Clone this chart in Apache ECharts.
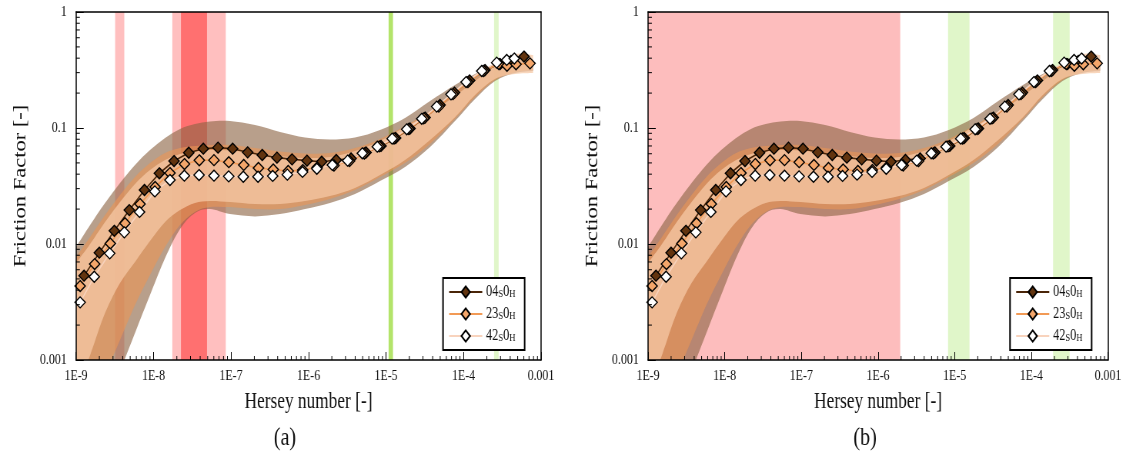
<!DOCTYPE html>
<html><head><meta charset="utf-8">
<script src="https://cdn.jsdelivr.net/npm/echarts@6/dist/echarts.min.js"></script>
<style>
html,body{margin:0;padding:0;background:#fff;overflow:hidden;width:1136px;height:455px;}
#chart{width:1476px;height:455px;transform:scaleX(0.76965);transform-origin:0 0;}
</style></head><body><div id="chart"></div>
<script>
// ---------- data ----------
const xTickLabels = ['1E-9','1E-8','1E-7','1E-6','1E-5','1E-4','0.001'];
const yTickLabels = ['0.001','0.01','0.1','1'];
const seriesNames = ['04S0H','23S0H','42S0H'];

const hersey04 = [1.27e-9,2.00e-9,3.12e-9,4.87e-9,7.65e-9,1.19e-8,1.84e-8,2.85e-8,4.39e-8,6.80e-8,1.05e-7,1.64e-7,2.53e-7,3.92e-7,6.13e-7,9.56e-7,1.48e-6,2.28e-6,3.54e-6,5.52e-6,8.62e-6,1.33e-5,2.04e-5,3.19e-5,4.98e-5,7.65e-5,1.20e-4,1.89e-4,2.96e-4,4.10e-4,6.03e-4];
const friction04 = [0.00533,0.00841,0.0130,0.0196,0.0292,0.0407,0.0519,0.0612,0.0663,0.0677,0.0663,0.0617,0.0585,0.0555,0.0537,0.0523,0.0512,0.0530,0.0546,0.0615,0.0700,0.0820,0.0990,0.123,0.158,0.202,0.257,0.316,0.356,0.378,0.413];

const hersey23 = [1.13e-9,1.74e-9,2.77e-9,4.29e-9,6.70e-9,1.05e-8,1.63e-8,2.51e-8,3.90e-8,6.03e-8,9.37e-8,1.46e-7,2.26e-7,3.51e-7,5.47e-7,8.42e-7,1.29e-6,2.13e-6,3.38e-6,5.25e-6,8.20e-6,1.27e-5,1.96e-5,3.07e-5,4.79e-5,7.32e-5,1.14e-4,1.82e-4,2.85e-4,3.64e-4,4.76e-4,7.21e-4];
const friction23 = [0.00434,0.00672,0.0101,0.0151,0.0221,0.0310,0.0409,0.0489,0.0527,0.0528,0.0507,0.0480,0.0452,0.0439,0.0426,0.0434,0.0456,0.0475,0.0519,0.0603,0.0693,0.0812,0.0980,0.121,0.153,0.196,0.249,0.310,0.356,0.344,0.354,0.361];

const hersey42 = [1.13e-9,1.72e-9,2.72e-9,4.20e-9,6.60e-9,1.04e-8,1.63e-8,2.50e-8,3.87e-8,6.03e-8,9.34e-8,1.44e-7,2.23e-7,3.45e-7,5.33e-7,8.37e-7,1.28e-6,2.03e-6,3.20e-6,4.95e-6,7.72e-6,1.20e-5,1.85e-5,2.89e-5,4.51e-5,6.90e-5,1.08e-4,1.72e-4,2.68e-4,3.61e-4,4.52e-4];
const friction42 = [0.00314,0.00522,0.00831,0.0126,0.0189,0.0284,0.0356,0.0388,0.0393,0.0388,0.0383,0.0380,0.0380,0.0386,0.0396,0.0418,0.0445,0.0480,0.0523,0.0605,0.0690,0.0809,0.0975,0.120,0.153,0.195,0.249,0.310,0.366,0.386,0.397];

// confidence bands (shared x positions)
const bandX = [1.00e-9,1.52e-9,2.37e-9,3.70e-9,5.77e-9,9.01e-9,1.41e-8,2.20e-8,3.43e-8,5.36e-8,9.71e-8,2.04e-7,4.29e-7,9.01e-7,1.89e-6,3.98e-6,8.37e-6,1.76e-5,3.70e-5,7.77e-5,1.41e-4,2.55e-4,4.62e-4,7.88e-4];
const band04Upper = [0.00942,0.0146,0.0226,0.0336,0.0480,0.0646,0.0820,0.0980,0.108,0.114,0.115,0.106,0.0924,0.0828,0.0796,0.0828,0.0961,0.122,0.171,0.235,0.292,0.356,0.386,0.386];
const band04Lower = [6.21e-5,1.37e-4,3.04e-4,7.88e-4,1.71e-3,3.63e-3,7.57e-3,0.0135,0.0185,0.0200,0.0181,0.0173,0.0181,0.0200,0.0226,0.0270,0.0349,0.0461,0.0686,0.115,0.178,0.254,0.298,0.310];
const band23Upper = [0.00773,0.0115,0.0178,0.0265,0.0378,0.0499,0.0609,0.0672,0.0700,0.0714,0.0714,0.0672,0.0627,0.0603,0.0609,0.0672,0.0804,0.104,0.140,0.200,0.265,0.336,0.386,0.386];
const band23Lower = [1.85e-4,3.71e-4,7.43e-4,1.49e-3,2.98e-3,5.41e-3,9.42e-3,0.0146,0.0189,0.0208,0.0208,0.0200,0.0200,0.0217,0.0244,0.0292,0.0378,0.0499,0.0728,0.120,0.185,0.259,0.304,0.316];
const band42Upper = [0.00686,0.0100,0.0155,0.0230,0.0329,0.0434,0.0530,0.0597,0.0633,0.0646,0.0640,0.0609,0.0574,0.0551,0.0562,0.0633,0.0773,0.102,0.135,0.189,0.254,0.342,0.434,0.426];
const band42Lower = [5.19e-4,1.10e-3,2.54e-3,4.61e-3,7.00e-3,0.0106,0.0155,0.0196,0.0226,0.0235,0.0230,0.0221,0.0221,0.0235,0.0259,0.0304,0.0393,0.0530,0.0788,0.124,0.193,0.265,0.292,0.298];

// highlighted Hersey-number ranges [start, end]
const regionsA = [[3.2e-9,4.2e-9],[1.75e-8,8.55e-8],[2.26e-8,4.9e-8],[1.08e-5,1.23e-5],[2.48e-4,2.84e-4]];
const regionsB = [[1e-9,1.95e-6],[8.2e-6,1.56e-5],[1.92e-4,3.16e-4]];

// ---------- styles ----------
const regionColorsA = ['#ffbfbf','#ffbfbf','#ff7070','#b3e46a','#e0f6c9'];
const regionColorsB = ['#fdbdbd','#e0f6c9','#e0f6c9'];
const SERIF = '"Liberation Serif","Times New Roman",serif';
const S = 0.76965;
const grids = [
  {left: 76/S, top: 12, width: 465/S, height: 348},
  {left: 648/S, top: 12, width: 460/S, height: 348}
];
const legendLeft = [443/S, 1010/S];
const captionX = [285/S, 865/S];

const bandDefs = [
  {up: band04Upper, lo: band04Lower, fill: 'rgba(141,100,67,0.62)'},
  {up: band23Upper, lo: band23Lower, fill: 'rgba(235,150,85,0.6)'},
  {up: band42Upper, lo: band42Lower, fill: 'rgba(245,200,165,0.75)'}
];
const lineDefs = [
  {name: seriesNames[0], xs: hersey04, ys: friction04, fill: '#62340f', stroke: '#4a2508'},
  {name: seriesNames[1], xs: hersey23, ys: friction23, fill: '#f4a66a', stroke: '#f29a55'},
  {name: seriesNames[2], xs: hersey42, ys: friction42, fill: '#ffffff', stroke: '#f8d3bd'}
];

function crSegs(pts) {
  let d = '';
  for (let i = 0; i < pts.length - 1; i++) {
    const p0 = pts[i - 1] || pts[i], p1 = pts[i], p2 = pts[i + 1], p3 = pts[i + 2] || p2;
    const c1x = p1[0] + (p2[0] - p0[0]) / 6, c1y = p1[1] + (p2[1] - p0[1]) / 6;
    const c2x = p2[0] - (p3[0] - p1[0]) / 6, c2y = p2[1] - (p3[1] - p1[1]) / 6;
    d += ' C' + c1x + ' ' + c1y + ' ' + c2x + ' ' + c2y + ' ' + p2[0] + ' ' + p2[1];
  }
  return d;
}

function clipOf(params) {
  const c = params.coordSys;
  return {type: 'rect', shape: {x: c.x, y: c.y, width: c.width, height: c.height}};
}

const series = [];
[0, 1].forEach(gi => {
  const regions = gi === 0 ? regionsA : regionsB;
  const rColors = gi === 0 ? regionColorsA : regionColorsB;
  series.push({
    type: 'custom', xAxisIndex: gi, yAxisIndex: gi, silent: true, z: 1,
    data: regions.map(r => [r[0], r[1]]),
    encode: {x: [0, 1]},
    renderItem: (params, api) => {
      const a = api.coord([api.value(0), 1]);
      const b = api.coord([api.value(1), 1e-3]);
      return {type: 'group', clipPath: clipOf(params), children: [{
        type: 'rect', shape: {x: a[0], y: a[1], width: b[0] - a[0], height: b[1] - a[1]},
        style: {fill: rColors[params.dataIndex]}
      }]};
    }
  });
  bandDefs.forEach(bd => {
    series.push({
      type: 'custom', xAxisIndex: gi, yAxisIndex: gi, silent: true, z: 2,
      data: [[bandX[0], bd.up[0]]],
      renderItem: (params, api) => {
        const up = bandX.map((x, i) => api.coord([x, bd.up[i]]));
        const lo = bandX.map((x, i) => api.coord([x, bd.lo[i]])).reverse();
        const d = 'M' + up[0][0] + ' ' + up[0][1] + crSegs(up) + ' L' + lo[0][0] + ' ' + lo[0][1] + crSegs(lo) + ' Z';
        return {type: 'group', clipPath: clipOf(params), children: [{
          type: 'path', shape: {pathData: d}, style: {fill: bd.fill, stroke: null}
        }]};
      }
    });
  });
  lineDefs.forEach(ld => {
    series.push({
      type: 'line', name: ld.name, xAxisIndex: gi, yAxisIndex: gi, z: 5,
      data: ld.xs.map((x, i) => [x, ld.ys[i]]),
      symbol: 'diamond', symbolSize: [13.5, 11], showAllSymbol: true,
      itemStyle: {color: ld.fill, borderColor: '#000', borderWidth: 1.4},
      lineStyle: {color: ld.stroke, width: 1.6},
      emphasis: {disabled: true}, animation: false
    });
  });
  // minor log ticks (axis decoration)
  const minorX = [], minorY = [];
  for (let e = -9; e < -3; e++) for (let k = 2; k <= 9; k++) minorX.push(k * Math.pow(10, e));
  for (let e = -3; e < 0; e++) for (let k = 2; k <= 9; k++) minorY.push(k * Math.pow(10, e));
  series.push({
    type: 'custom', xAxisIndex: gi, yAxisIndex: gi, silent: true, z: 12,
    data: minorX.map(v => [v, 1e-3]),
    renderItem: (params, api) => {
      const p = api.coord([api.value(0), 1e-3]);
      return {type: 'line', shape: {x1: p[0], y1: p[1], x2: p[0], y2: p[1] - 4}, style: {stroke: '#000', lineWidth: 1}};
    }
  });
  series.push({
    type: 'custom', xAxisIndex: gi, yAxisIndex: gi, silent: true, z: 12,
    data: minorY.map(v => [1e-9, v]),
    renderItem: (params, api) => {
      const p = api.coord([1e-9, api.value(1)]);
      return {type: 'line', shape: {x1: p[0], y1: p[1], x2: p[0] + 5, y2: p[1]}, style: {stroke: '#000', lineWidth: 1}};
    }
  });
});

const xAxes = [], yAxes = [];
[0, 1].forEach(gi => {
  xAxes.push({
    type: 'log', gridIndex: gi, min: 1e-9, max: 1e-3, splitNumber: 6, z: 10,
    axisLine: {show: true, onZero: false, lineStyle: {color: '#000', width: 1.5}},
    axisTick: {show: true, inside: true, length: 8, lineStyle: {color: '#000', width: 1}},
    splitLine: {show: false},
    axisLabel: {fontFamily: SERIF, fontSize: 15.5, color: '#111', margin: 8,
      formatter: v => xTickLabels[Math.round(Math.log10(v)) + 9] || ''},
    name: 'Hersey number [-]', nameLocation: 'middle', nameGap: 31,
    nameTextStyle: {fontFamily: SERIF, fontSize: 22.5, color: '#111'}
  });
  yAxes.push({
    type: 'log', gridIndex: gi, min: 1e-3, max: 1, splitNumber: 3, z: 10,
    axisLine: {show: true, onZero: false, lineStyle: {color: '#000', width: 1.5}},
    axisTick: {show: true, inside: true, length: 10, lineStyle: {color: '#000', width: 1}},
    splitLine: {show: false},
    axisLabel: {fontFamily: SERIF, fontSize: 15.5, color: '#111', margin: 12,
      formatter: v => yTickLabels[Math.round(Math.log10(v)) + 3] || ''},
    name: 'Friction Factor [-]', nameLocation: 'middle', nameGap: 60, nameRotate: 90,
    nameTextStyle: {fontFamily: SERIF, fontSize: 22.5, color: '#111'}
  });
});
[0, 1].forEach(gi => {
  xAxes.push({type: 'log', gridIndex: gi, position: 'top', min: 1e-9, max: 1e-3, z: 10,
    axisLine: {show: true, onZero: false, lineStyle: {color: '#000', width: 1.5}},
    axisTick: {show: false}, axisLabel: {show: false}, splitLine: {show: false}});
  yAxes.push({type: 'log', gridIndex: gi, position: 'right', min: 1e-3, max: 1, z: 10,
    axisLine: {show: true, onZero: false, lineStyle: {color: '#000', width: 1.5}},
    axisTick: {show: false}, axisLabel: {show: false}, splitLine: {show: false}});
});

const legendRich = {
  n: {fontFamily: SERIF, fontSize: 16, color: '#111', lineHeight: 16, verticalAlign: 'bottom'},
  s: {fontFamily: SERIF, fontSize: 11, color: '#111', lineHeight: 6, verticalAlign: 'bottom'}
};
const legends = [0, 1].map(gi => ({
  left: legendLeft[gi], top: 278, orient: 'vertical', data: seriesNames,
  itemWidth: 43, itemHeight: 14, itemGap: 6, padding: [6, 12, 6, 7],
  borderColor: '#000', borderWidth: 2, backgroundColor: '#fff',
  selectedMode: false,
  formatter: n => '{n|' + n.slice(0, 2) + '}{s|S}{n|0}{s|H}',
  textStyle: {rich: legendRich}
}));

const chart = echarts.init(document.getElementById('chart'), null, {renderer: 'canvas'});
chart.setOption({
  animation: false,
  backgroundColor: '#fff',
  grid: grids,
  xAxis: xAxes,
  yAxis: yAxes,
  legend: legends,
  series: series,
  graphic: [0, 1].map(gi => ({
    type: 'text', x: captionX[gi], y: 438, z: 20,
    style: {text: gi === 0 ? '(a)' : '(b)', font: '26px ' + SERIF, fill: '#111',
      textAlign: 'center', textVerticalAlign: 'middle', verticalAlign: 'middle'}
  }))
});
</script>
</body></html>
